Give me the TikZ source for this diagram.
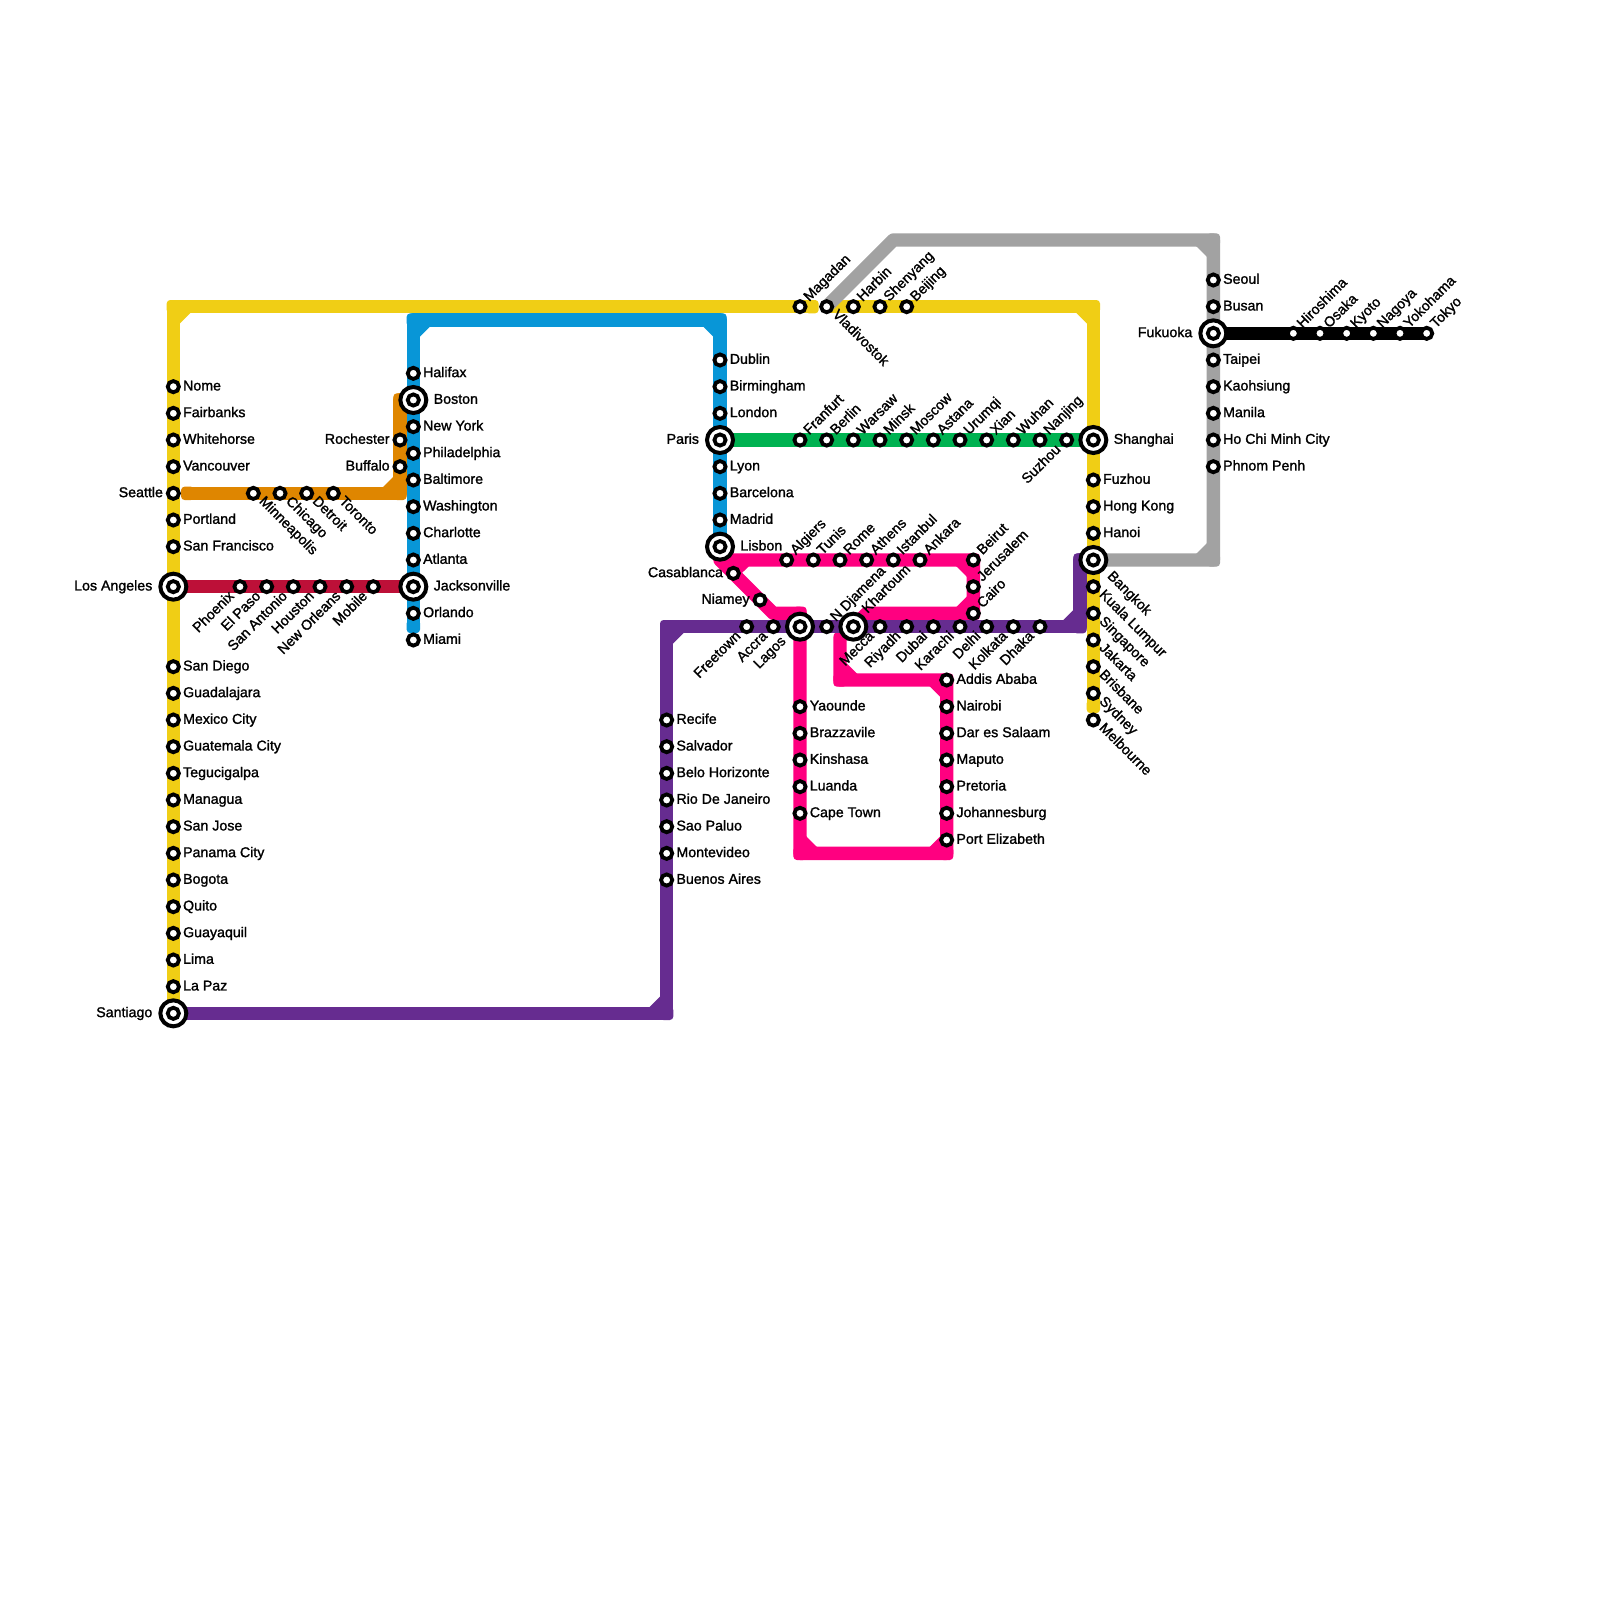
\documentclass[tikz,border=0pt]{standalone}
\usepackage{fontspec}
\setmainfont[FakeBold=1.4]{Liberation Sans}
\usetikzlibrary{backgrounds,calc}
\definecolor{cyellow}{HTML}{F0CE15}
\definecolor{cblue}{HTML}{0896D7}
\definecolor{corange}{HTML}{DF8600}
\definecolor{ccrimson}{HTML}{BD1038}
\definecolor{cgreen}{HTML}{00B251}
\definecolor{cpink}{HTML}{FF0080}
\definecolor{cpurple}{HTML}{662C90}
\definecolor{cgrey}{HTML}{A2A2A2}
\tikzset{
 stn/.style={circle,draw=black,fill=white,line width=1.9pt,minimum size=5.6pt,inner sep=0pt},
 hub/.style={circle,draw=black,fill=white,line width=2pt,minimum size=13pt,inner sep=0pt,
   path picture={\draw[black,line width=1.9pt] (path picture bounding box.center) circle (2.8pt);}},
 route/.style={line width=6.667pt,line join=round,line cap=butt},
 tx/.style={font=\fontsize{7.1}{8}\selectfont,text=black,inner sep=0pt},
 lr/.style={tx,anchor=base west,xshift=4.7pt,yshift=-1.9pt},
 ll/.style={tx,anchor=base east,xshift=-5pt,yshift=-1.9pt},
 hr/.style={tx,anchor=base west,xshift=10pt,yshift=-1.9pt},
 hl/.style={tx,anchor=base east,xshift=-10.3pt,yshift=-1.9pt},
 ur/.style={tx,anchor=base west,xshift=4.5pt,yshift=2.2pt,rotate=45},
 dr/.style={tx,anchor=base west,xshift=2.5pt,yshift=-4.2pt,rotate=-45},
 dl/.style={tx,anchor=base east,xshift=-2.5pt,yshift=-5pt,rotate=45},
 hur/.style={tx,anchor=base west,xshift=7pt,yshift=6.3pt,rotate=45},
 hdr/.style={tx,anchor=base west,xshift=6.6pt,yshift=-8.3pt,rotate=-45},
 hdl/.style={tx,anchor=base east,xshift=-6.6pt,yshift=-7.5pt,rotate=45},
}
\newcommand{\St}[4]{\node[stn] (#1) at (#2) {}; \node[#3] (#1-t) at (#1.center) {#4};}
\newcommand{\Hb}[4]{\node[hub] (#1) at (#2) {}; \node[#3] (#1-t) at (#1.center) {#4};}
\newcommand{\knob}[2]{\fill[#1,rounded corners=1.75pt] ($(#2)+(-3.333pt,-3.333pt)$) rectangle ($(#2)+(3.333pt,3.333pt)$);}
\newcommand{\bend}[4]{\knob{#1}{#2}
 \begin{scope}[shift={(#2)},xscale=#3,yscale=#4]
 \fill[#1] (-3pt,-3pt) -- (-8.7pt,-3pt) -- (-8.333pt,-3.333pt) -- (-3.333pt,-8.333pt) -- (-3pt,-8.7pt) -- cycle;
 \end{scope}}
\begin{document}
\begin{tikzpicture}[x=13.3333pt,y=-13.3333pt]
\useasboundingbox (0,0) rectangle (60,60);
% corner coordinates
\coordinate (yc1) at (6.5,11.5); \coordinate (yc2) at (41,11.5);
\coordinate (yEndA) at (30.45,11.5); \coordinate (yEndB) at (41,26.49);
\coordinate (bc1) at (15.5,12); \coordinate (bc2) at (27,12); \coordinate (bEnd) at (15.5,23.49);
\coordinate (oStart) at (7.04,18.5); \coordinate (oc1) at (15,18.5); \coordinate (oc2) at (15,15);
\coordinate (uc1) at (25,38); \coordinate (uc2) at (25,23.5); \coordinate (uc3) at (40.5,23.5); \coordinate (uc4) at (40.5,21);
\coordinate (gc1) at (33.5,9); \coordinate (gc2) at (45.5,9); \coordinate (gc3) at (45.5,21);
\coordinate (pA) at (27,21); \coordinate (pB) at (32.5,23); \coordinate (pC) at (29,23); \coordinate (pD) at (30,23);
\coordinate (pE) at (30,32); \coordinate (pF) at (35.5,32); \coordinate (pG) at (31.5,25.5); \coordinate (pH) at (31.5,23.9);
% stations: Americas
\St{nome}{6.5,14.5}{lr}{Nome}
\St{fairbanks}{6.5,15.5}{lr}{Fairbanks}
\St{whitehorse}{6.5,16.5}{lr}{Whitehorse}
\St{vancouver}{6.5,17.5}{lr}{Vancouver}
\St{seattle}{6.5,18.5}{ll}{Seattle}
\St{portland}{6.5,19.5}{lr}{Portland}
\St{sanfrancisco}{6.5,20.5}{lr}{San Francisco}
\Hb{la}{6.5,22}{hl}{Los Angeles}
\St{sandiego}{6.5,25}{lr}{San Diego}
\St{guadalajara}{6.5,26}{lr}{Guadalajara}
\St{mexico}{6.5,27}{lr}{Mexico City}
\St{guatemala}{6.5,28}{lr}{Guatemala City}
\St{tegucigalpa}{6.5,29}{lr}{Tegucigalpa}
\St{managua}{6.5,30}{lr}{Managua}
\St{sanjose}{6.5,31}{lr}{San Jose}
\St{panama}{6.5,32}{lr}{Panama City}
\St{bogota}{6.5,33}{lr}{Bogota}
\St{quito}{6.5,34}{lr}{Quito}
\St{guayaquil}{6.5,35}{lr}{Guayaquil}
\St{lima}{6.5,36}{lr}{Lima}
\St{lapaz}{6.5,37}{lr}{La Paz}
\Hb{santiago}{6.5,38}{hl}{Santiago}
\St{minneapolis}{9.5,18.5}{dr}{Minneapolis}
\St{chicago}{10.5,18.5}{dr}{Chicago}
\St{detroit}{11.5,18.5}{dr}{Detroit}
\St{toronto}{12.5,18.5}{dr}{Toronto}
\St{phoenix}{9,22}{dl}{Phoenix}
\St{elpaso}{10,22}{dl}{El Paso}
\St{sanantonio}{11,22}{dl}{San Antonio}
\St{houston}{12,22}{dl}{Houston}
\St{neworleans}{13,22}{dl}{New Orleans}
\St{mobile}{14,22}{dl}{Mobile}
\St{rochester}{15,16.5}{ll}{Rochester}
\St{buffalo}{15,17.5}{ll}{Buffalo}
\St{halifax}{15.5,14}{lr}{Halifax}
\Hb{boston}{15.5,15}{hr}{Boston}
\St{newyork}{15.5,16}{lr}{New York}
\St{philadelphia}{15.5,17}{lr}{Philadelphia}
\St{baltimore}{15.5,18}{lr}{Baltimore}
\St{washington}{15.5,19}{lr}{Washington}
\St{charlotte}{15.5,20}{lr}{Charlotte}
\St{atlanta}{15.5,21}{lr}{Atlanta}
\Hb{jacksonville}{15.5,22}{hr}{Jacksonville}
\St{orlando}{15.5,23}{lr}{Orlando}
\St{miami}{15.5,24}{lr}{Miami}
% South America
\St{recife}{25,27}{lr}{Recife}
\St{salvador}{25,28}{lr}{Salvador}
\St{belo}{25,29}{lr}{Belo Horizonte}
\St{rio}{25,30}{lr}{Rio De Janeiro}
\St{saopaluo}{25,31}{lr}{Sao Paluo}
\St{montevideo}{25,32}{lr}{Montevideo}
\St{buenosaires}{25,33}{lr}{Buenos Aires}
% Europe
\St{dublin}{27,13.5}{lr}{Dublin}
\St{birmingham}{27,14.5}{lr}{Birmingham}
\St{london}{27,15.5}{lr}{London}
\Hb{paris}{27,16.5}{hl}{Paris}
\St{lyon}{27,17.5}{lr}{Lyon}
\St{barcelona}{27,18.5}{lr}{Barcelona}
\St{madrid}{27,19.5}{lr}{Madrid}
\Hb{lisbon}{27,20.5}{hr}{Lisbon}
% Green line
\St{franfurt}{30,16.5}{ur}{Franfurt}
\St{berlin}{31,16.5}{ur}{Berlin}
\St{warsaw}{32,16.5}{ur}{Warsaw}
\St{minsk}{33,16.5}{ur}{Minsk}
\St{moscow}{34,16.5}{ur}{Moscow}
\St{astana}{35,16.5}{ur}{Astana}
\St{urumqi}{36,16.5}{ur}{Urumqi}
\St{xian}{37,16.5}{ur}{Xian}
\St{wuhan}{38,16.5}{ur}{Wuhan}
\St{nanjing}{39,16.5}{ur}{Nanjing}
\St{suzhou}{40,16.5}{dl}{Suzhou}
\Hb{shanghai}{41,16.5}{hr}{Shanghai}
% top row
\St{magadan}{30,11.5}{ur}{Magadan}
\St{vladivostok}{31,11.5}{dr}{Vladivostok}
\St{harbin}{32,11.5}{ur}{Harbin}
\St{shenyang}{33,11.5}{ur}{Shenyang}
\St{beijing}{34,11.5}{ur}{Beijing}
% Africa / Mideast
\St{algiers}{29.5,21}{ur}{Algiers}
\St{tunis}{30.5,21}{ur}{Tunis}
\St{rome}{31.5,21}{ur}{Rome}
\St{athens}{32.5,21}{ur}{Athens}
\St{istanbul}{33.5,21}{ur}{Istanbul}
\St{ankara}{34.5,21}{ur}{Ankara}
\St{beirut}{36.5,21}{ur}{Beirut}
\St{jerusalem}{36.5,22}{ur}{Jerusalem}
\St{cairo}{36.5,23}{ur}{Cairo}
\St{casablanca}{27.5,21.5}{ll}{Casablanca}
\St{niamey}{28.5,22.5}{ll}{Niamey}
\St{freetown}{28,23.5}{dl}{Freetown}
\St{accra}{29,23.5}{dl}{Accra}
\Hb{lagos}{30,23.5}{hdl}{Lagos}
\St{ndjamena}{31,23.5}{ur}{N Djamena}
\Hb{khartoum}{32,23.5}{hur}{Khartoum}
\St{mecca}{33,23.5}{dl}{Mecca}
\St{riyadh}{34,23.5}{dl}{Riyadh}
\St{dubai}{35,23.5}{dl}{Dubai}
\St{karachi}{36,23.5}{dl}{Karachi}
\St{delhi}{37,23.5}{dl}{Delhi}
\St{kolkata}{38,23.5}{dl}{Kolkata}
\St{dhaka}{39,23.5}{dl}{Dhaka}
\St{yaounde}{30,26.5}{lr}{Yaounde}
\St{brazzavile}{30,27.5}{lr}{Brazzavile}
\St{kinshasa}{30,28.5}{lr}{Kinshasa}
\St{luanda}{30,29.5}{lr}{Luanda}
\St{capetown}{30,30.5}{lr}{Cape Town}
\St{addis}{35.5,25.5}{lr}{Addis Ababa}
\St{nairobi}{35.5,26.5}{lr}{Nairobi}
\St{dar}{35.5,27.5}{lr}{Dar es Salaam}
\St{maputo}{35.5,28.5}{lr}{Maputo}
\St{pretoria}{35.5,29.5}{lr}{Pretoria}
\St{johannesburg}{35.5,30.5}{lr}{Johannesburg}
\St{portelizabeth}{35.5,31.5}{lr}{Port Elizabeth}
% Asia right
\St{fuzhou}{41,18}{lr}{Fuzhou}
\St{hongkong}{41,19}{lr}{Hong Kong}
\St{hanoi}{41,20}{lr}{Hanoi}
\Hb{bangkok}{41,21}{hdr}{Bangkok}
\St{kuala}{41,22}{dr}{Kuala Lumpur}
\St{singapore}{41,23}{dr}{Singapore}
\St{jakarta}{41,24}{dr}{Jakarta}
\St{brisbane}{41,25}{dr}{Brisbane}
\St{sydney}{41,26}{dr}{Sydney}
\St{melbourne}{41,27}{dr}{Melbourne}
\St{seoul}{45.5,10.5}{lr}{Seoul}
\St{busan}{45.5,11.5}{lr}{Busan}
\Hb{fukuoka}{45.5,12.5}{hl}{Fukuoka}
\St{taipei}{45.5,13.5}{lr}{Taipei}
\St{kaohsiung}{45.5,14.5}{lr}{Kaohsiung}
\St{manila}{45.5,15.5}{lr}{Manila}
\St{hochiminh}{45.5,16.5}{lr}{Ho Chi Minh City}
\St{phnompenh}{45.5,17.5}{lr}{Phnom Penh}
\St{hiroshima}{48.5,12.5}{ur}{Hiroshima}
\St{osaka}{49.5,12.5}{ur}{Osaka}
\St{kyoto}{50.5,12.5}{ur}{Kyoto}
\St{nagoya}{51.5,12.5}{ur}{Nagoya}
\St{yokohama}{52.5,12.5}{ur}{Yokohama}
\St{tokyo}{53.5,12.5}{ur}{Tokyo}
% routes
\begin{scope}[on background layer]
 % orange
 \draw[route,corange] (oStart) -- (oc1) -- (oc2) -- (boston.center);
 \knob{corange}{oStart} \bend{corange}{oc1}{1}{-1} \bend{corange}{oc2}{-1}{1}
 % blue
 \draw[route,cblue] (bEnd) -- (bc1) -- (bc2) -- (lisbon.center);
 \knob{cblue}{bEnd} \bend{cblue}{bc1}{-1}{1} \bend{cblue}{bc2}{1}{1}
 % crimson
 \draw[route,ccrimson] (la.center) -- (jacksonville.center);
 % green
 \draw[route,cgreen] (paris.center) -- (shanghai.center);
 % pink
 \draw[route,cpink] (lisbon.center) -- (pA) -- (beirut.center) -- (cairo.center) -- (pB) -- (khartoum.center);
 \draw[route,cpink] (pA) -- (pC) -- (pD) -- (lagos.center) -- (pE) -- (pF) -- (addis.center) -- (pG) -- (pH) -- (khartoum.center);
 \fill[cpink] ($(pA)+(7pt,-3pt)$) -- ($(pA)+(14.3pt,-3pt)$) -- ($(pA)+(14.3pt,-3.333pt)$) -- ($(pA)+(10.5pt,-6.9pt)$) -- cycle;
 \bend{cpink}{beirut}{1}{1} \bend{cpink}{cairo}{1}{-1} \bend{cpink}{addis}{1}{1}
 \bend{cpink}{pF}{1}{-1} \bend{cpink}{pE}{-1}{-1} \bend{cpink}{pG}{-1}{-1} \knob{cpink}{pD}
 % purple
 \draw[route,cpurple] (santiago.center) -- (uc1) -- (uc2) -- (uc3) -- (uc4) -- (bangkok.center);
 \bend{cpurple}{uc1}{1}{-1} \bend{cpurple}{uc2}{-1}{1} \bend{cpurple}{uc3}{1}{-1} \knob{cpurple}{uc4}
 % yellow
 \draw[route,cyellow] (santiago.center) -- (yc1) -- (yEndA);
 \knob{cyellow}{yEndA} \bend{cyellow}{yc1}{-1}{1}
 \draw[route,cyellow] (vladivostok.center) -- (yc2) -- (yEndB);
 \knob{cyellow}{yEndB} \bend{cyellow}{yc2}{1}{1}
 % grey
 \draw[route,cgrey] (vladivostok.center) -- (gc1) -- (gc2) -- (gc3) -- (bangkok.center);
 \bend{cgrey}{gc2}{1}{1} \bend{cgrey}{gc3}{1}{-1}
 % black
 \draw[route,black] (fukuoka.center) -- (tokyo.center);
\end{scope}
\end{tikzpicture}
\end{document}
